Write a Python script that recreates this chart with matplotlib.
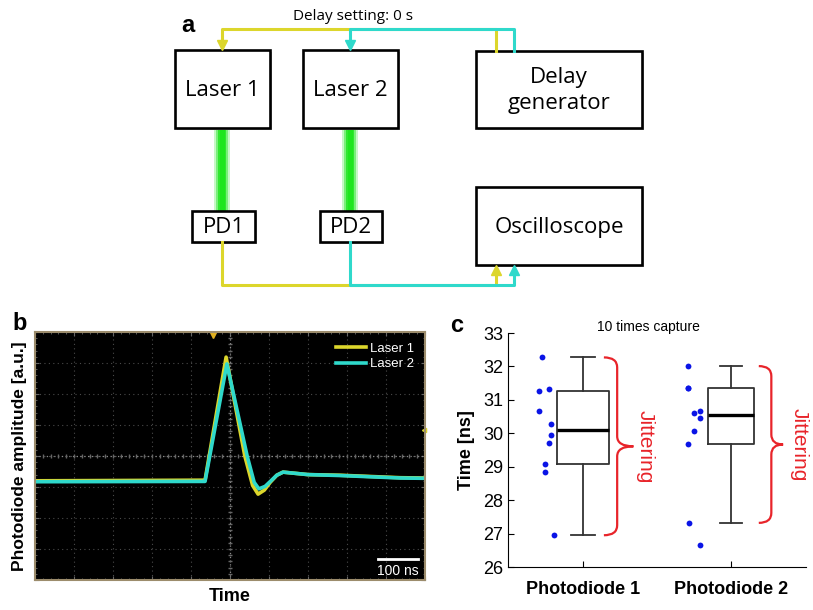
import matplotlib.pyplot as plt
import numpy as np
from matplotlib.patches import Rectangle, PathPatch
from matplotlib.path import Path

plt.rcParams['font.family'] = ['Liberation Sans', 'DejaVu Sans']

# ---- panel b: oscilloscope traces (time in ns, amplitude in divisions)
time1 = [-500, -64, -10, 38, 58, 72, 88, 103, 120, 136, 160, 200, 282, 436, 500]
laser1 = [-0.80, -0.78, 3.19, 0.0, -0.95, -1.23, -1.10, -0.85, -0.62, -0.52, -0.55, -0.60, -0.62, -0.70, -0.71]
time2 = [-500, -64, -8, 44, 62, 74, 90, 105, 120, 136, 160, 200, 282, 436, 500]
laser2 = [-0.83, -0.82, 2.97, 0.0, -0.85, -1.06, -0.98, -0.80, -0.62, -0.52, -0.55, -0.60, -0.63, -0.71, -0.72]

# ---- panel c: 10 captures per photodiode
pd1_times = [32.27, 31.27, 31.32, 30.67, 30.27, 29.95, 29.70, 29.07, 28.85, 26.95]
pd1_x = [0.72, 0.70, 0.77, 0.70, 0.78, 0.78, 0.77, 0.74, 0.74, 0.80]
pd2_times = [32.01, 31.36, 31.34, 30.62, 30.68, 30.47, 30.07, 29.67, 27.32, 26.65]
pd2_x = [1.71, 1.71, 1.71, 1.75, 1.79, 1.79, 1.75, 1.71, 1.72, 1.79]
pd_labels = ['Photodiode 1', 'Photodiode 2']

YEL = '#dcd62c'
CYA = '#2fd9cb'

fig = plt.figure(figsize=(8.13, 6.1), dpi=100)

# ---------------- panel a (pixel coordinates) ----------------
ax0 = fig.add_axes([0, 0, 1, 1])
ax0.set_xlim(0, 813)
ax0.set_ylim(610, 0)
ax0.axis('off')

diag_font = ['Open Sans', 'DejaVu Sans']
boxes = [('Laser 1', 175, 50, 95, 78), ('Laser 2', 303, 50, 95, 78),
         ('Delay\ngenerator', 476, 51, 166, 77), ('Oscilloscope', 476, 187, 166, 78),
         ('PD1', 192, 211, 63, 31), ('PD2', 320, 211, 62, 31)]
for label, bx, by, bw, bh in boxes:
    ax0.add_patch(Rectangle((bx + 2, by + 2), bw, bh, facecolor='#c4c4c4', edgecolor='none', zorder=2))
    ax0.add_patch(Rectangle((bx, by), bw, bh, facecolor='white', edgecolor='black', lw=1.9, zorder=3))
    ax0.text(bx + bw / 2, by + bh / 2 + 1, label, ha='center', va='center', fontsize=16,
             family=diag_font, linespacing=1.25, zorder=4)

# green beams
for bxc in (222, 350):
    for w, a in ((16, 0.25), (12, 0.45), (8, 0.8), (5, 1.0)):
        ax0.plot([bxc, bxc], [128, 211], color='#1ee61e', lw=w * 0.72, alpha=a,
                 solid_capstyle='butt', zorder=1)

# signal wires
ax0.plot([496, 496, 222, 222], [51, 29, 29, 42], color=YEL, lw=2.2, zorder=5)
ax0.plot([514, 514, 350, 350], [51, 29, 29, 42], color=CYA, lw=2.2, zorder=6)
ax0.plot([222], [45], marker='v', ms=7.5, color=YEL, zorder=5)
ax0.plot([350], [45], marker='v', ms=7.5, color=CYA, zorder=6)
ax0.plot([222, 222, 496, 496], [242, 285, 285, 272], color=YEL, lw=2.2, zorder=5)
ax0.plot([350, 350, 514, 514], [242, 285, 285, 272], color=CYA, lw=2.2, zorder=6)
ax0.plot([496], [270], marker='^', ms=7.5, color=YEL, zorder=5)
ax0.plot([514], [270], marker='^', ms=7.5, color=CYA, zorder=6)

ax0.text(353, 17, 'Delay setting: 0 s', ha='center', va='center', fontsize=11, family=diag_font)
ax0.text(188, 26, 'a', ha='center', va='center', fontsize=17, fontweight='bold')
ax0.text(20, 323, 'b', ha='center', va='center', fontsize=17, fontweight='bold')
ax0.text(457, 326, 'c', ha='center', va='center', fontsize=17, fontweight='bold')

# ---------------- panel b ----------------
axb = fig.add_axes([35 / 813, 1 - 580 / 610, 390 / 813, 248 / 610])
axb.set_facecolor('black')
axb.set_xlim(-500, 500)
axb.set_ylim(-4, 4)
for sp in axb.spines.values():
    sp.set_color('#9c8c6c')
    sp.set_linewidth(1.5)
axb.set_xticks(np.arange(-500, 501, 100))
axb.set_yticks(np.arange(-4, 5, 1))
axb.set_xticks(np.arange(-500, 501, 20), minor=True)
axb.set_yticks(np.arange(-4, 4.01, 0.2), minor=True)
axb.tick_params(which='both', direction='in', colors='#666666', labelleft=False, labelbottom=False,
                top=True, right=True, length=3)
axb.tick_params(which='minor', length=1.5)
axb.grid(True, which='major', color='#4a4a4a', ls=(0, (1, 3)), lw=0.8)
axb.axvline(0, color='#8a8a8a', ls=(0, (1, 2)), lw=0.9)
axb.axhline(0, color='#8a8a8a', ls=(0, (1, 2)), lw=0.9)
axb.plot(np.arange(-500, 501, 20), np.zeros(51), '|', color='#666666', ms=2.2)
axb.plot(np.zeros(41), np.arange(-4, 4.01, 0.2), '_', color='#666666', ms=2.2)

axb.plot(time1, laser1, color=YEL, lw=2.6, label='Laser 1')
axb.plot(time2, laser2, color=CYA, lw=2.6, label='Laser 2')
axb.plot([-44], [3.9], marker='v', ms=4, color='#e0b020', clip_on=False)
axb.plot([497], [0.84], marker='<', ms=3, color=YEL, clip_on=False)

leg = axb.legend(loc='upper right', frameon=False, fontsize=9.5, handlelength=2.3,
                 labelspacing=0.25, borderaxespad=0.4, handletextpad=0.3)
for t in leg.get_texts():
    t.set_color('white')

axb.plot([380, 482], [-3.32, -3.32], color='white', lw=2)
axb.text(431, -3.72, '100 ns', color='white', ha='center', va='center', fontsize=10)
axb.set_xlabel('Time', fontsize=13, fontweight='bold', labelpad=6)
axb.set_ylabel('Photodiode amplitude [a.u.]', fontsize=12.5, fontweight='bold', labelpad=6)

# ---------------- panel c ----------------
axc = fig.add_axes([508 / 813, 1 - 567 / 610, 298 / 813, 234 / 610])
axc.set_xlim(0.49, 2.51)
axc.set_ylim(26, 33)
axc.spines['top'].set_visible(False)
axc.spines['right'].set_visible(False)


def box_stats(vals):
    v = np.array(vals)
    q1, med, q3 = np.percentile(v, [25, 50, 75], method='hazen')
    iqr = q3 - q1
    inside = v[(v >= q1 - 1.5 * iqr) & (v <= q3 + 1.5 * iqr)]
    return {'med': med, 'q1': q1, 'q3': q3, 'whislo': inside.min(), 'whishi': inside.max(), 'fliers': []}


stats = [box_stats(pd1_times), box_stats(pd2_times)]
axc.bxp(stats, positions=[1, 2], widths=[0.35, 0.31], showfliers=False,
        boxprops=dict(color='#333333', lw=1.3), whiskerprops=dict(color='#333333', lw=1.3),
        capprops=dict(color='#333333', lw=1.3), medianprops=dict(color='black', lw=2.4),
        capwidths=[0.16, 0.15])
axc.plot(pd1_x, pd1_times, 'o', color='#0a14e6', ms=4.2, mec='none')
axc.plot(pd2_x, pd2_times, 'o', color='#0a14e6', ms=4.2, mec='none')


def brace(ax, xa, xb, xc, ytop, ybot, r):
    ymid = (ytop + ybot) / 2
    verts = [(xa, ytop), (xb, ytop), (xb, ytop - r), (xb, ymid + r), (xb, ymid), (xc, ymid),
             (xb, ymid), (xb, ymid - r), (xb, ybot + r), (xb, ybot), (xa, ybot)]
    codes = [Path.MOVETO, Path.CURVE3, Path.CURVE3, Path.LINETO, Path.CURVE3, Path.CURVE3,
             Path.CURVE3, Path.CURVE3, Path.LINETO, Path.CURVE3, Path.CURVE3]
    ax.add_patch(PathPatch(Path(verts, codes), facecolor='none', edgecolor='#e8242a', lw=1.6,
                           clip_on=False))


brace(axc, 1.14, 1.23, 1.34, stats[0]['whishi'], stats[0]['whislo'], 0.3)
brace(axc, 2.19, 2.275, 2.355, stats[1]['whishi'], stats[1]['whislo'], 0.3)
axc.text(1.42, (stats[0]['whishi'] + stats[0]['whislo']) / 2, 'Jittering', rotation=-90, color='#e8242a',
         ha='center', va='center', fontsize=15, clip_on=False)
axc.text(2.465, (stats[1]['whishi'] + stats[1]['whislo']) / 2, 'Jittering', rotation=-90, color='#e8242a',
         ha='center', va='center', fontsize=15, clip_on=False)

axc.set_yticks(range(26, 34))
axc.set_xticks([1, 2])
axc.set_xticklabels(pd_labels, fontsize=13, fontweight='bold')
axc.tick_params(axis='y', labelsize=13, direction='in', length=4)
axc.tick_params(axis='x', direction='in', length=4, pad=10)
axc.set_ylabel('Time [ns]', fontsize=13, fontweight='bold', labelpad=6)
axc.text(0.47, 1.025, '10 times capture', transform=axc.transAxes, ha='center', va='center', fontsize=10)

fig.savefig('out.png', dpi=100)
